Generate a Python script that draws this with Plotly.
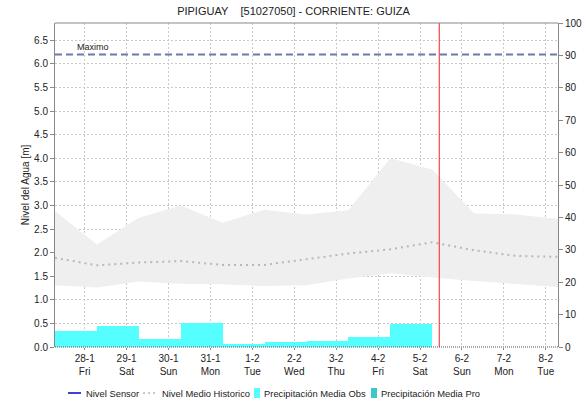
import plotly.graph_objects as go

# ---------------- data ----------------
TITLE = "PIPIGUAY\u00a0\u00a0\u00a0\u00a0[51027050] - CORRIENTE: GUIZA"
Y_TITLE = "Nivel del Agua [m]"
Y2_TITLE = "Precipitación [mm]"

X_START = "2022-01-27 07:00"
X_END = "2022-02-08 07:00"
NOW = "2022-02-05 11:00"
MAXIMO = 6.2

TICK_DATES = ["2022-01-28", "2022-01-29", "2022-01-30", "2022-01-31", "2022-02-01",
              "2022-02-02", "2022-02-03", "2022-02-04", "2022-02-05", "2022-02-06",
              "2022-02-07", "2022-02-08"]
TICK_DAYS = ["28-1", "29-1", "30-1", "31-1", "1-2", "2-2", "3-2", "4-2", "5-2", "6-2", "7-2", "8-2"]
TICK_WEEKDAYS = ["Fri", "Sat", "Sun", "Mon", "Tue", "Wed", "Thu", "Fri", "Sat", "Sun", "Mon", "Tue"]

HIST_TIMES = ["2022-01-27 07:00", "2022-01-28 07:00", "2022-01-29 07:00", "2022-01-30 07:00",
              "2022-01-31 07:00", "2022-02-01 07:00", "2022-02-02 07:00", "2022-02-03 07:00",
              "2022-02-04 07:00", "2022-02-05 07:00", "2022-02-06 07:00", "2022-02-07 07:00",
              "2022-02-08 07:00"]
HIST_MAX = [2.88, 2.17, 2.74, 3.00, 2.63, 2.91, 2.81, 2.90, 4.00, 3.76, 2.83, 2.81, 2.71]
HIST_MIN = [1.31, 1.26, 1.39, 1.34, 1.33, 1.29, 1.31, 1.45, 1.56, 1.47, 1.40, 1.33, 1.27]
HIST_MEAN = [1.89, 1.73, 1.79, 1.82, 1.74, 1.74, 1.86, 1.98, 2.07, 2.22, 2.05, 1.93, 1.91]

PRECIP_START = ["2022-01-27 07:00", "2022-01-28 07:00", "2022-01-29 07:00", "2022-01-30 07:00",
                "2022-01-31 07:00", "2022-02-01 07:00", "2022-02-02 07:00", "2022-02-03 07:00",
                "2022-02-04 07:00"]
PRECIP_OBS = [4.8, 6.35, 2.6, 7.5, 1.0, 1.6, 1.95, 2.95, 6.95]

SENSOR_TIMES = []
SENSOR_LEVEL = []
PRECIP_PRO_START = []
PRECIP_PRO = []

LEGEND_NAMES = ["Nivel Sensor", "Nivel Medio Historico", "Precipitación Media Obs", "Precipitación Media Pro"]

Y_RANGE = [0, 6.865]
Y2_RANGE = [0, 100]

# ---------------- figure ----------------
W, H = 587, 401
ML, MR, MT, MB = 55, 29, 23, 54
PW, PH = W - ML - MR, H - MT - MB
FONT = "Liberation Sans, Arial, sans-serif"
DAY_MS = 86400000


def px_x(px):
    return (px - ML) / PW


def px_y(py):
    return (H - MB - py) / PH


fig = go.Figure()

# historic band
fig.add_trace(go.Scatter(x=HIST_TIMES, y=HIST_MIN, mode="lines", line=dict(width=0),
                         hoverinfo="skip", showlegend=False))
fig.add_trace(go.Scatter(x=HIST_TIMES, y=HIST_MAX, mode="lines", line=dict(width=0),
                         fill="tonexty", fillcolor="#efefef", hoverinfo="skip", showlegend=False))
# historic mean
fig.add_trace(go.Scatter(x=HIST_TIMES, y=HIST_MEAN, mode="lines", name=LEGEND_NAMES[1],
                         line=dict(color="#b8b8b8", width=2, dash="2px,4px"), showlegend=False))
# precipitation observed
fig.add_trace(go.Bar(x=PRECIP_START, y=PRECIP_OBS, width=[DAY_MS] * len(PRECIP_OBS), offset=0,
                     marker=dict(color="#55ffff", line=dict(width=0)), yaxis="y2",
                     name=LEGEND_NAMES[2], showlegend=False))
fig.add_trace(go.Bar(x=PRECIP_PRO_START, y=PRECIP_PRO, offset=0,
                     marker=dict(color="#3fc6c6", line=dict(width=0)), yaxis="y2",
                     name=LEGEND_NAMES[3], showlegend=False))
# sensor level
fig.add_trace(go.Scatter(x=SENSOR_TIMES, y=SENSOR_LEVEL, mode="lines", name=LEGEND_NAMES[0],
                         line=dict(color="#0000cc", width=1.5), showlegend=False))
# maximo
fig.add_trace(go.Scatter(x=[X_START, X_END], y=[MAXIMO, MAXIMO], mode="lines",
                         line=dict(color="#6b7bab", width=2, dash="7px,4px"),
                         hoverinfo="skip", showlegend=False))

shapes = []
# now line
shapes.append(dict(type="line", xref="x", yref="paper", x0=NOW, x1=NOW, y0=0, y1=1,
                   line=dict(color="#ee2222", width=1)))
# top border
shapes.append(dict(type="line", xref="paper", yref="paper", x0=0, x1=1, y0=1, y1=1,
                   line=dict(color="#888888", width=1)))
# bottom dotted
shapes.append(dict(type="line", xref="paper", yref="paper", x0=0, x1=1, y0=0, y1=0,
                   line=dict(color="#555555", width=1.2, dash="1px,1px")))

# custom legend
LY = 393
shapes.append(dict(type="line", xref="paper", yref="paper", x0=px_x(68), x1=px_x(81),
                   y0=px_y(LY), y1=px_y(LY), line=dict(color="#0000cc", width=1.5)))
shapes.append(dict(type="line", xref="paper", yref="paper", x0=px_x(143), x1=px_x(157),
                   y0=px_y(LY), y1=px_y(LY), line=dict(color="#b8b8b8", width=1.5, dash="2px,3px")))
shapes.append(dict(type="rect", xref="paper", yref="paper", x0=px_x(254), x1=px_x(260),
                   y0=px_y(398), y1=px_y(388), line=dict(width=0), fillcolor="#55ffff"))
shapes.append(dict(type="rect", xref="paper", yref="paper", x0=px_x(371), x1=px_x(377),
                   y0=px_y(398), y1=px_y(388), line=dict(width=0), fillcolor="#3fc6c6"))

annotations = []
for name, px in zip(LEGEND_NAMES, [84, 160, 262, 379]):
    annotations.append(dict(text=name, xref="paper", yref="paper", x=px_x(px), y=px_y(LY),
                            xanchor="left", yanchor="middle", showarrow=False,
                            font=dict(size=9.4, color="#222222", family=FONT)))
annotations.append(dict(text="Maximo", xref="paper", yref="y", x=px_x(75), y=MAXIMO,
                        xanchor="left", yanchor="bottom", yshift=0, showarrow=False,
                        font=dict(size=9, color="#222222", family=FONT)))
annotations.append(dict(text=Y2_TITLE, xref="paper", yref="paper", x=px_x(592), y=0.5,
                        xanchor="center", yanchor="middle", textangle=-90, showarrow=False,
                        font=dict(size=10, color="#222222", family=FONT)))

fig.update_layout(
    width=W, height=H,
    margin=dict(l=ML, r=MR, t=MT, b=MB, pad=0, autoexpand=False),
    paper_bgcolor="white", plot_bgcolor="white",
    font=dict(family=FONT, size=10, color="#222222"),
    title=dict(text=TITLE, x=0.5, xanchor="center", y=1 - 11 / H, yanchor="middle",
               font=dict(size=11, color="#222222", family=FONT)),
    showlegend=False,
    barmode="overlay",
    bargap=0,
    shapes=shapes,
    annotations=annotations,
    xaxis=dict(type="date", range=[X_START, X_END], tickmode="array",
               tickvals=TICK_DATES,
               ticktext=[d + "<br>" + w for d, w in zip(TICK_DAYS, TICK_WEEKDAYS)],
               showgrid=True, gridcolor="#c8c8c8", griddash="2px,2px", gridwidth=1,
               ticks="outside", ticklen=2, tickcolor="#888888", automargin=False,
               showline=False, zeroline=False, tickfont=dict(size=10)),
    yaxis=dict(range=Y_RANGE, tickmode="linear", tick0=0, dtick=0.5, tickformat=".1f",
               showgrid=True, gridcolor="#c8c8c8", griddash="2px,2px", gridwidth=1,
               ticks="outside", ticklen=4, tickcolor="#888888", automargin=False,
               showline=True, linecolor="#888888", linewidth=1, zeroline=False,
               title=dict(text=Y_TITLE, font=dict(size=10), standoff=2),
               tickfont=dict(size=10)),
    yaxis2=dict(range=Y2_RANGE, overlaying="y", side="right", tickmode="linear", tick0=0, dtick=10,
                showgrid=False, ticks="outside", ticklen=4, tickcolor="#888888", automargin=False,
                showline=True, linecolor="#888888", linewidth=1, zeroline=False,
                tickfont=dict(size=10)),
)

fig.write_html("out.html", config={"displayModeBar": False},
               post_script="document.body.style.margin='0';")
